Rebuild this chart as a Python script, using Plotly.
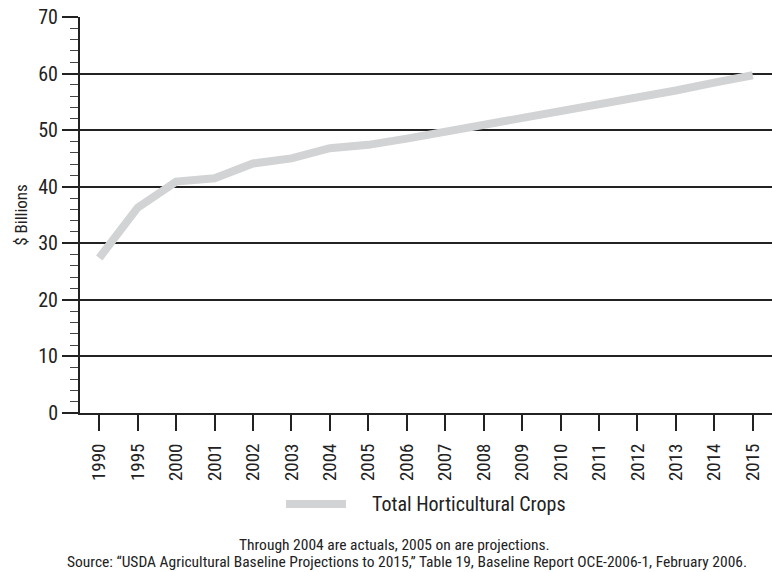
import plotly.graph_objects as go

# Total horticultural crop value, $ billions
years = ["1990", "1995", "2000", "2001", "2002", "2003", "2004", "2005", "2006",
         "2007", "2008", "2009", "2010", "2011", "2012", "2013", "2014", "2015"]
values = [27.4, 36.3, 40.9, 41.5, 44.1, 45.0, 46.8, 47.4, 48.5,
          49.7, 50.8, 51.9, 53.1, 54.4, 55.7, 57.0, 58.4, 59.7]
series_name = "Total Horticultural Crops"
y_ticks = [0, 10, 20, 30, 40, 50, 60, 70]
note_lines = [
    "Through 2004 are actuals, 2005 on are projections.",
    "Source: \u201cUSDA Agricultural Baseline Projections to 2015,\u201d Table 19, "
    "Baseline Report OCE-2006-1, February 2006.",
]

FONT = "Liberation Sans Narrow, Roboto Condensed, Arial Narrow, Liberation Sans, sans-serif"
INK = "#222222"
LINE_GREY = "#d2d3d5"

fig = go.Figure()
fig.add_trace(go.Scatter(
    x=years, y=values, mode="lines", name=series_name,
    line=dict(color=LINE_GREY, width=8), showlegend=False,
))

fig.update_layout(
    width=772, height=572,
    margin=dict(l=80, r=0, t=17, b=159),
    paper_bgcolor="white", plot_bgcolor="white",
    font=dict(family=FONT, size=18, color=INK),
    xaxis=dict(
        type="category", range=[-0.5, 17.5],
        showgrid=False, showline=True, linecolor=INK, linewidth=2,
        ticks="outside", ticklen=16, tickwidth=1.5, tickcolor=INK,
        tickangle=-90, tickfont=dict(size=19, color=INK),
        ticklabelstandoff=5,
        fixedrange=True,
    ),
    yaxis=dict(
        range=[0, 70], tickvals=y_ticks,
        showgrid=True, gridcolor=INK, gridwidth=1.5,
        showline=True, linecolor=INK, linewidth=2,
        ticks="outside", ticklen=16, tickwidth=1.5, tickcolor=INK,
        tickfont=dict(size=20, color=INK),
        zeroline=False,
        minor=dict(dtick=2, ticks="outside", ticklen=8, tickwidth=1.2,
                   tickcolor="#444444", showgrid=False),
        title=dict(text="$ Billions", font=dict(size=17, color=INK), standoff=6),
        fixedrange=True,
    ),
)

# Legend key: swatch line plus label below the axis
legend_y = -0.23
fig.add_shape(
    type="line", xref="paper", yref="paper",
    x0=0.2977, x1=0.3844, y0=legend_y, y1=legend_y,
    line=dict(color=LINE_GREY, width=8),
)
fig.add_annotation(
    text=series_name, xref="paper", yref="paper",
    x=0.4191, y=legend_y, xanchor="left", yanchor="middle",
    showarrow=False, font=dict(size=20, color=INK),
)

# Footnotes
for text, x, y in zip(note_lines, [0.4538, 0.4725], [-0.3333, -0.3763]):
    fig.add_annotation(
        text=text, xref="paper", yref="paper",
        x=x, y=y, xanchor="center", yanchor="middle",
        showarrow=False, font=dict(size=15.5, color=INK),
    )

fig.write_html("out.html")
